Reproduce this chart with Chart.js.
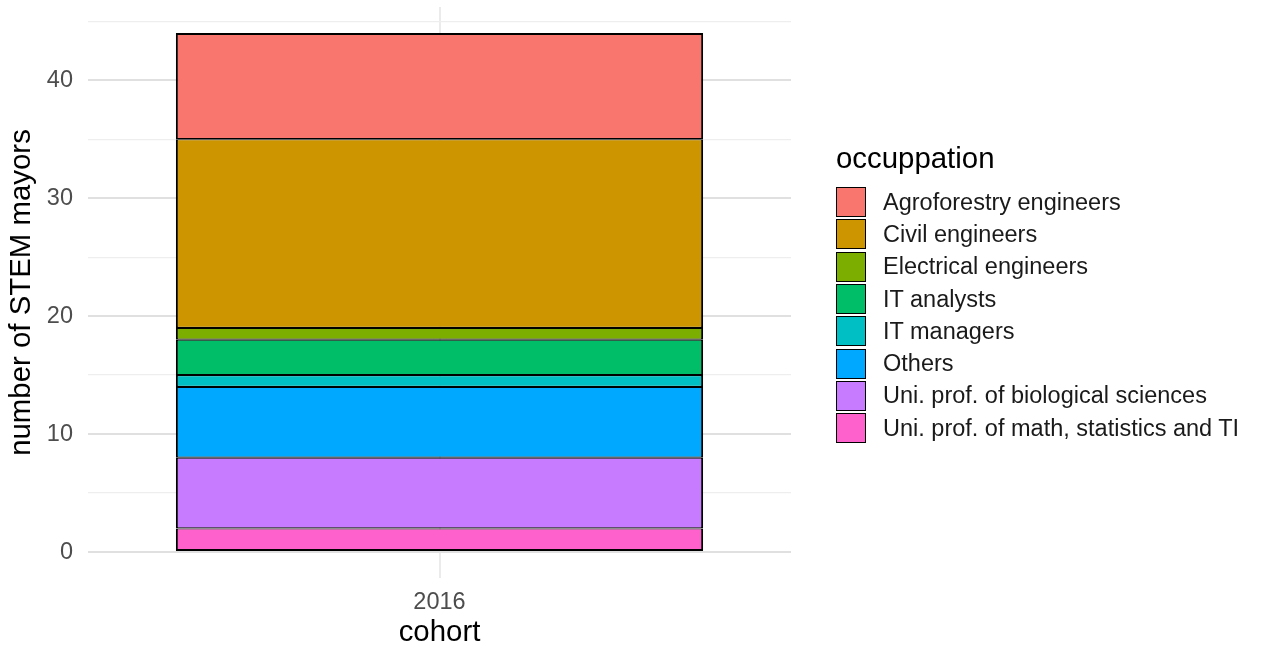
<!DOCTYPE html>
<html>
<head>
<meta charset="utf-8">
<script src="https://cdn.jsdelivr.net/npm/chart.js@4"></script>
<style>
  body { margin: 0; background: #fff; font-family: "Liberation Sans", Arial, sans-serif; }
  #wrap { position: relative; width: 1261px; height: 648px; }
  #legend { position: absolute; left: 836px; top: 140px; }
  #legend .title { font-size: 29.4px; line-height: 36px; color: #000; margin-bottom: 10px; }
  #legend .row { display: flex; align-items: center; height: 32.3px; }
  #legend .key { width: 30px; height: 30px; box-sizing: border-box; border: 1.5px solid #000; margin-right: 17px; }
  #legend .lab { font-size: 23.5px; color: #1a1a1a; white-space: nowrap; }
</style>
</head>
<body>
<div id="wrap">
  <canvas id="chart" width="1261" height="648"></canvas>
  <div id="legend"></div>
</div>
<script>
// 데이터 (아래에서 위 순서로 쌓임)
const cohorts = ["2016"];
const occupations = [
  "Agroforestry engineers",
  "Civil engineers",
  "Electrical engineers",
  "IT analysts",
  "IT managers",
  "Others",
  "Uni. prof. of biological sciences",
  "Uni. prof. of math, statistics and TI",
];
const agroforestry = [9];
const civil = [16];
const electrical = [1];
const itAnalysts = [3];
const itManagers = [1];
const others = [6];
const uniBio = [6];
const uniMath = [2];
const yMajorTicks = [0, 10, 20, 30, 40];
const yMinorTicks = [5, 15, 25, 35, 45];

const colors = ["#F8766D", "#CD9600", "#7CAE00", "#00BE67", "#00BFC4", "#00A9FF", "#C77CFF", "#FF61CC"];
const seriesValues = [agroforestry, civil, electrical, itAnalysts, itManagers, others, uniBio, uniMath];
const last = occupations.length - 1;

// Chart.js는 첫 데이터셋을 맨 아래에 그림 -> 역순
const datasets = occupations.map((name, i) => ({
  label: name,
  data: seriesValues[i],
  backgroundColor: colors[i],
  borderColor: "#000",
  borderWidth: { left: 2, right: 2, top: i === 0 ? 2 : 1.1, bottom: i === last ? 2 : 1.1 },
  borderSkipped: false,
  categoryPercentage: 1,
  barPercentage: 0.75,
})).reverse();

const tickFont = { family: "Liberation Sans", size: 23.5 };
const titleFont = { family: "Liberation Sans", size: 29.4 };

new Chart(document.querySelector("#chart"), {
  type: "bar",
  data: { labels: cohorts, datasets },
  options: {
    responsive: false,
    animation: false,
    devicePixelRatio: 1,
    layout: { padding: { left: 0, right: 470, top: 7, bottom: 0 } },
    plugins: { legend: { display: false }, tooltip: { enabled: false } },
    scales: {
      x: {
        stacked: true,
        grid: { offset: false, color: "#EBEBEB", lineWidth: 2, drawTicks: false },
        border: { display: false },
        ticks: { font: tickFont, color: "#4D4D4D", padding: 10 },
        title: { display: true, text: "cohort", font: { ...titleFont, lineHeight: 1 }, color: "#000", padding: { top: 0, bottom: 0 } },
        afterFit: (s) => {
          s.height = 70;
          s.paddingLeft = 0;
          s.paddingRight = 0;
        },
      },
      y: {
        stacked: true,
        min: -2.2,
        max: 46.2,
        afterBuildTicks: (s) => {
          s.ticks = [...yMajorTicks, ...yMinorTicks].sort((a, b) => a - b).map((v) => ({ value: v }));
        },
        grid: {
          drawTicks: false,
          color: (c) => (yMajorTicks.includes(c.tick.value) ? "#E0E0E0" : "#EEEEEE"),
          lineWidth: (c) => (yMajorTicks.includes(c.tick.value) ? 2 : 1.2),
        },
        border: { display: false },
        ticks: {
          font: tickFont,
          color: "#4D4D4D",
          padding: 15,
          autoSkip: false,
          callback: (v) => (yMajorTicks.includes(v) ? String(v) : ""),
        },
        title: { display: true, text: "number of STEM mayors", font: titleFont, color: "#000", padding: { top: 4, bottom: 0 } },
        afterFit: (s) => {
          s.width = 88;
          s.paddingTop = 0;
          s.paddingBottom = 0;
        },
      },
    },
  },
});

// 범례
const legend = document.querySelector("#legend");
legend.innerHTML = '<div class="title">occuppation</div>' +
  occupations.map((name, i) =>
    `<div class="row"><div class="key" style="background:${colors[i]}"></div><span class="lab">${name}</span></div>`
  ).join("");
</script>
</body>
</html>
